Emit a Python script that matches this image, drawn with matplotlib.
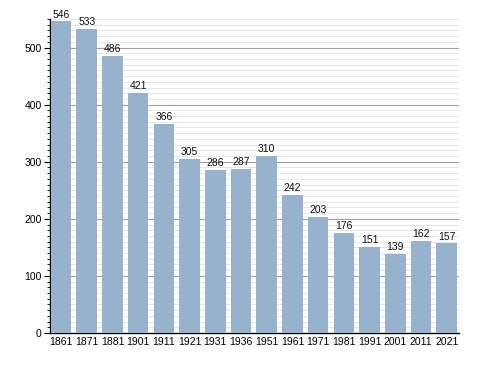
import matplotlib.pyplot as plt
from matplotlib.ticker import MultipleLocator

plt.rcParams['font.family'] = ['Liberation Sans', 'DejaVu Sans']

years = ['1861', '1871', '1881', '1901', '1911', '1921', '1931', '1936',
         '1951', '1961', '1971', '1981', '1991', '2001', '2011', '2021']
population = [546, 533, 486, 421, 366, 305, 286, 287, 310, 242, 203, 176, 151, 139, 162, 157]

fig = plt.figure(figsize=(4.88, 3.73), dpi=100)
ax = fig.add_axes([50 / 488, 40 / 373, 409 / 488, 314 / 373])

x = range(len(years))
bars = ax.bar(x, population, width=0.8, color='#97b2cc', zorder=3)

for xi, v in zip(x, population):
    ax.text(xi, v + 3, str(v), ha='center', va='bottom', fontsize=7.5, color='#111111', zorder=4)

ax.set_xlim(-0.43, len(years) - 0.52)
ax.set_ylim(0, 550)
ax.set_xticks(list(x))
ax.set_xticklabels(years, fontsize=7.5)
ax.yaxis.set_major_locator(MultipleLocator(100))
ax.yaxis.set_minor_locator(MultipleLocator(10))
ax.tick_params(axis='y', which='major', length=4, labelsize=7.5, pad=2)
ax.tick_params(axis='y', which='minor', length=2)
ax.tick_params(axis='x', length=0, pad=3)

ax.grid(axis='y', which='major', color='#a0a0a0', linewidth=0.8, zorder=1)
ax.grid(axis='y', which='minor', color='#e2e2e2', linewidth=0.6, zorder=0)

for s in ['top', 'right']:
    ax.spines[s].set_visible(False)
ax.spines['left'].set_linewidth(1)
ax.spines['bottom'].set_linewidth(1)

fig.savefig('out.png', dpi=100)
